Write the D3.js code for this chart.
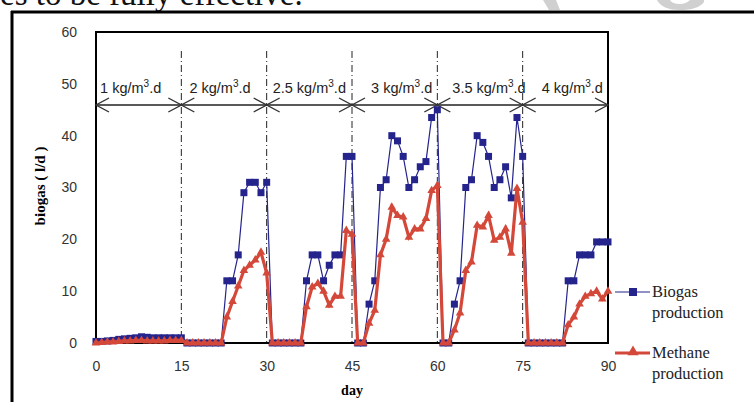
<!DOCTYPE html>
<html>
<head>
<meta charset="utf-8">
<script src="https://cdn.jsdelivr.net/npm/d3@7"></script>
<style>
  body { margin: 0; background: #fff; }
  svg { display: block; }
</style>
</head>
<body>
<svg id="chart" width="754" height="402"></svg>
<script>
// daily readings, day 0 .. 90
const days = d3.range(0, 91);

const biogas = [
  0.3, 0.3, 0.4, 0.5, 0.7, 0.8, 0.9, 1.0, 1.2, 1.1, 1.0, 1.0, 1.0, 1.0, 1.0, 1.0, // 0-15
  0, 0, 0, 0, 0, 0, 0,                                                          // 16-22
  12, 12, 17, 29, 31, 31, 29, 31,                                               // 23-30
  0, 0, 0, 0, 0, 0,                                                             // 31-36
  12, 17, 17, 12, 15, 17, 17, 36, 36,                                           // 37-45
  0, 0,                                                                         // 46-47
  7.5, 12, 30, 31.5, 40, 39, 36, 30, 31.5, 34, 35, 43.5, 45,                    // 48-60
  0, 0,                                                                         // 61-62
  7.5, 12, 30, 31.5, 40, 38.7, 36, 30, 31.5, 34, 28, 43.5, 36,                  // 63-75
  0, 0, 0, 0, 0, 0, 0,                                                          // 76-82
  12, 12, 17, 17, 17, 19.5, 19.5, 19.5                                          // 83-90
];

const methane = [
  0, 0.1, 0.2, 0.2, 0.3, 0.4, 0.4, 0.5, 0.5, 0.4, 0.4, 0.4, 0.4, 0.5, 0.5, 0.5,
  0, 0, 0, 0, 0, 0, 0,
  5, 8, 11, 14, 15, 16, 17.5, 13.5,
  0, 0, 0, 0, 0, 0,
  7, 10.8, 11.5, 10, 7.3, 9, 9, 21.7, 21,
  0, 0,
  3.8, 6.3, 17, 20, 26.2, 24.6, 24.3, 20.4, 22, 22, 24, 29.4, 30.4,
  0, 0,
  2.5, 5.8, 14, 15.6, 22.7, 22.4, 24.6, 19.8, 20.4, 22, 17.3, 29.8, 23.3,
  0, 0, 0, 0, 0, 0, 0,
  3.5, 5, 7.5, 9, 9.5, 10, 8.5, 10
];

// loading rate periods
const periodBounds = [0, 15, 30, 45, 60, 75, 90];
const periodLabels = ["1", "2", "2.5", "3", "3.5", "4"];

const xTicks = [0, 15, 30, 45, 60, 75, 90];
const yTicks = [0, 10, 20, 30, 40, 50, 60];

const blue = "#24248c";
const red = "#d4483a";

const svg = d3.select("#chart");

// Plot area
let margin = {top: 32, left: 96},
    width = 512,
    height = 311;

let x = d3.scaleLinear().domain([0, 90]).range([margin.left, margin.left + width]);
let y = d3.scaleLinear().domain([0, 60]).range([margin.top + height, margin.top]);

// clipped caption text from the page above the figure
svg.append("text")
    .attr("x", 0)
    .attr("y", 5)
    .style("font-family", "Liberation Serif, serif")
    .style("font-size", "33px")
    .attr("fill", "#111")
    .text("es to be fully effective.");

// faint watermark shapes above the frame
svg.append("path")
    .attr("d", "M 543 0 L 556 0 L 560 10 L 549 10 Z")
    .attr("fill", "#d0d0d0");
svg.append("path")
    .attr("d", "M 657 0 Q 662 10 680 10 Q 698 10 704 2 L 704 0 L 690 0 Q 686 4 680 4 Q 672 4 670 0 Z")
    .attr("fill", "#d0d0d0");

// outer frame of the figure
svg.append("line")
    .attr("x1", 11).attr("x2", 754).attr("y1", 12).attr("y2", 12)
    .attr("stroke", "#000").attr("stroke-width", 3);
svg.append("line")
    .attr("x1", 12).attr("x2", 12).attr("y1", 11).attr("y2", 402)
    .attr("stroke", "#000").attr("stroke-width", 3);

// plot frame
svg.append("rect")
    .attr("x", margin.left).attr("y", margin.top)
    .attr("width", width).attr("height", height)
    .attr("fill", "none").attr("stroke", "#000").attr("stroke-width", 2);

// axes (labels only, no tick marks)
let xAxis = svg.append("g")
    .attr("transform", "translate(0," + (margin.top + height + 12) + ")")
    .call(d3.axisBottom(x).tickValues(xTicks).tickSize(0).tickPadding(6));
xAxis.select(".domain").remove();
xAxis.selectAll("text")
    .style("font-family", "Liberation Sans, Arial, sans-serif")
    .style("font-size", "14px")
    .attr("fill", "#333");

let yAxis = svg.append("g")
    .attr("transform", "translate(" + (margin.left - 19) + ",0)")
    .call(d3.axisLeft(y).tickValues(yTicks).tickSize(0).tickPadding(0));
yAxis.select(".domain").remove();
yAxis.selectAll("text")
    .style("font-family", "Liberation Sans, Arial, sans-serif")
    .style("font-size", "14px")
    .attr("fill", "#333");

// axis titles
svg.append("text")
    .attr("transform", "translate(45,186) rotate(-90)")
    .attr("text-anchor", "middle")
    .style("font-family", "Liberation Serif, serif")
    .style("font-weight", "bold")
    .style("font-size", "15px")
    .text("biogas ( l/d )");

svg.append("text")
    .attr("x", x(45))
    .attr("y", 395)
    .attr("text-anchor", "middle")
    .style("font-family", "Liberation Serif, serif")
    .style("font-weight", "bold")
    .style("font-size", "14px")
    .text("day");

// period separators
const arrowY = 105;
svg.selectAll(".sep")
    .data(periodBounds.slice(1, -1))
    .enter()
    .append("line")
    .attr("x1", d => x(d)).attr("x2", d => x(d))
    .attr("y1", 51).attr("y2", y(0))
    .attr("stroke", "#222")
    .attr("stroke-width", 1)
    .attr("stroke-dasharray", "7,3,1,3");

// horizontal arrow line
svg.append("line")
    .attr("x1", x(0)).attr("x2", x(90))
    .attr("y1", arrowY).attr("y2", arrowY)
    .attr("stroke", "#222").attr("stroke-width", 1.5);

// open arrow heads at every period edge
let heads = [];
for (let i = 0; i < periodBounds.length - 1; i++) {
  heads.push({at: periodBounds[i], dir: 1});
  heads.push({at: periodBounds[i + 1], dir: -1});
}
svg.selectAll(".head")
    .data(heads)
    .enter()
    .append("path")
    .attr("d", d => {
      let x0 = x(d.at), dx = 13 * d.dir;
      return "M" + (x0 + dx) + "," + (arrowY - 7) + " L" + x0 + "," + arrowY +
             " L" + (x0 + dx) + "," + (arrowY + 7);
    })
    .attr("fill", "none")
    .attr("stroke", "#333")
    .attr("stroke-width", 1.4);

// period labels (nudged like the original)
const labelNudge = [-8, -4, 0, 7, 9, 7];
let plabels = svg.selectAll(".plabel")
    .data(periodLabels)
    .enter()
    .append("text")
    .attr("x", (d, i) => (x(periodBounds[i]) + x(periodBounds[i + 1])) / 2 + labelNudge[i])
    .attr("y", 93)
    .attr("text-anchor", "middle")
    .style("font-family", "Liberation Sans, Arial, sans-serif")
    .style("font-size", "14.5px")
    .attr("fill", "#222");
plabels.append("tspan").text(d => d + " kg/m");
plabels.append("tspan").attr("dy", -6).style("font-size", "10px").text("3");
plabels.append("tspan").attr("dy", 6).text(".d");

// series
const biogasData = days.map((d, i) => ({day: d, v: biogas[i]}));
const methaneData = days.map((d, i) => ({day: d, v: methane[i]}));

let line = d3.line().x(d => x(d.day)).y(d => y(d.v));

svg.append("path")
    .datum(biogasData)
    .attr("d", line)
    .attr("fill", "none")
    .attr("stroke", blue)
    .attr("stroke-width", 1.2);

svg.selectAll(".sq")
    .data(biogasData)
    .enter()
    .append("rect")
    .attr("x", d => x(d.day) - 3.5)
    .attr("y", d => y(d.v) - 3.5)
    .attr("width", 7).attr("height", 7)
    .attr("fill", blue);

svg.append("path")
    .datum(methaneData)
    .attr("d", line)
    .attr("fill", "none")
    .attr("stroke", red)
    .attr("stroke-width", 3.2);

let tri = d3.symbol().type(d3.symbolTriangle).size(32);
svg.selectAll(".tri")
    .data(methaneData)
    .enter()
    .append("path")
    .attr("d", tri)
    .attr("transform", d => "translate(" + x(d.day) + "," + y(d.v) + ")")
    .attr("fill", red);

// legend
const legendItems = [
  {name: ["Biogas", "production"], color: blue, marker: "square", y: 292},
  {name: ["Methane", "production"], color: red, marker: "triangle", y: 353}
];
let lg = svg.selectAll(".legend")
    .data(legendItems)
    .enter()
    .append("g")
    .attr("transform", d => "translate(615," + d.y + ")");
lg.append("line")
    .attr("x1", 0).attr("x2", 35)
    .attr("stroke", d => d.color)
    .attr("stroke-width", d => d.marker == "square" ? 1.2 : 3);
lg.each(function(d) {
  let g = d3.select(this);
  if (d.marker == "square") {
    g.append("rect").attr("x", 14).attr("y", -4).attr("width", 8).attr("height", 8).attr("fill", d.color);
  } else {
    g.append("path").attr("d", d3.symbol().type(d3.symbolTriangle).size(55)).attr("transform", "translate(18,-1)").attr("fill", d.color);
  }
});
lg.append("text")
    .attr("y", 5)
    .style("font-family", "Liberation Serif, serif")
    .style("font-size", "16.5px")
    .attr("fill", "#222")
    .selectAll("tspan")
    .data(d => d.name)
    .enter()
    .append("tspan")
    .attr("x", 37)
    .attr("dy", (d, i) => i == 0 ? 0 : 21)
    .text(d => d);
</script>
</body>
</html>
